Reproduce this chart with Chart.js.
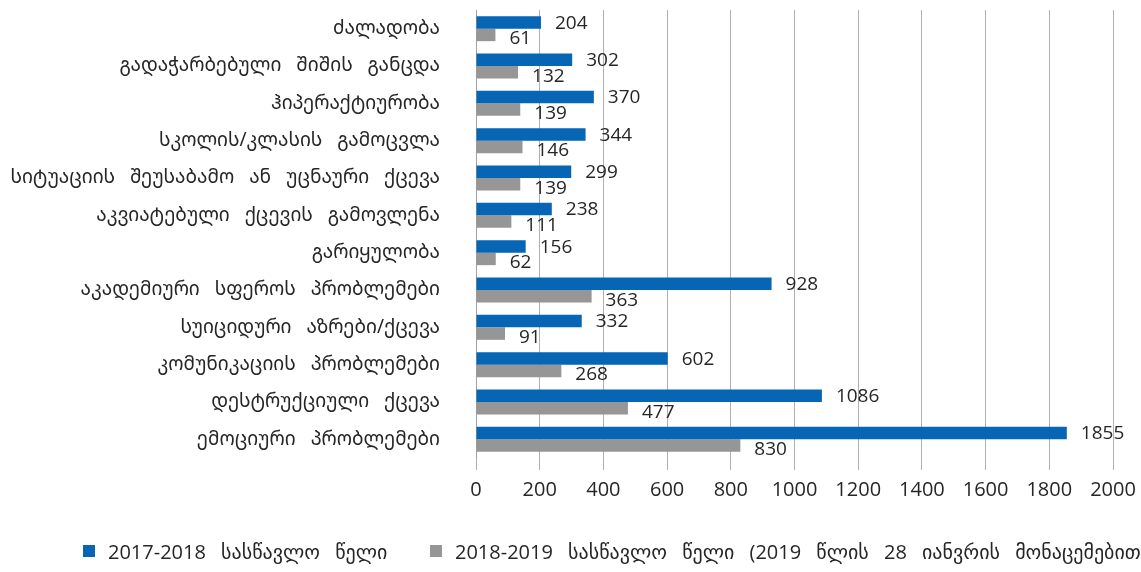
<!DOCTYPE html>
<html>
<head>
<meta charset="utf-8">
<script src="https://cdn.jsdelivr.net/npm/chart.js@4.4.1/dist/chart.umd.min.js"></script>
<style>
  html, body { margin: 0; padding: 0; background: #fff; overflow: hidden; }
  #wrap { position: relative; width: 1141px; height: 572px; }
  #legend { position: absolute; left: 0; top: 536px; width: 1141px; height: 32px; overflow: hidden; white-space: nowrap;
            font-family: "Open Sans", "DejaVu Sans", sans-serif; font-size: 20px; word-spacing: 10px; color: #262626; }
  #legend .item { position: absolute; top: 0; display: flex; align-items: center; height: 30px; }
  #legend .box { width: 12px; height: 12px; margin-right: 13px; }
</style>
</head>
<body>
<div id="wrap">
  <canvas id="bar_chart" width="1141" height="572"></canvas>
  <div id="legend"></div>
</div>
<script>
let categories = [
    'ძალადობა',
    'გადაჭარბებული შიშის განცდა',
    'ჰიპერაქტიურობა',
    'სკოლის/კლასის გამოცვლა',
    'სიტუაციის შეუსაბამო ან უცნაური ქცევა',
    'აკვიატებული ქცევის გამოვლენა',
    'გარიყულობა',
    'აკადემიური სფეროს პრობლემები',
    'სუიციდური აზრები/ქცევა',
    'კომუნიკაციის პრობლემები',
    'დესტრუქციული ქცევა',
    'ემოციური პრობლემები'
];

let series_names = [
    '2017-2018 სასწავლო წელი',
    '2018-2019 სასწავლო წელი (2019 წლის 28 იანვრის მონაცემებით)'
];

let values_2017 = [204, 302, 370, 344, 299, 238, 156, 928, 332, 602, 1086, 1855];
let values_2018 = [61, 132, 139, 146, 139, 111, 62, 363, 91, 268, 477, 830];

let x_ticks = [0, 200, 400, 600, 800, 1000, 1200, 1400, 1600, 1800, 2000];

let colors = ['#0665b4', '#969696'];

// wider gaps between words, like the original
let wideWords = {
    id: 'wideWords',
    beforeDraw(chart) {
        chart.ctx.wordSpacing = '10px';
    }
};

// value labels next to bar ends
let valueLabels = {
    id: 'valueLabels',
    afterDatasetsDraw(chart) {
        let ctx = chart.ctx;
        ctx.save();
        ctx.font = '19px "Open Sans", "DejaVu Sans", sans-serif';
        ctx.fillStyle = '#262626';
        ctx.textAlign = 'left';
        ctx.textBaseline = 'middle';
        chart.data.datasets.forEach(function(ds, i) {
            let meta = chart.getDatasetMeta(i);
            let dy = i === 0 ? 1 : 4;
            meta.data.forEach(function(bar, j) {
                ctx.fillText(String(ds.data[j]), bar.x + 14, bar.y + dy);
            });
        });
        ctx.restore();
    }
};

let chart_data = new Chart(document.getElementById('bar_chart'), {
    type: 'bar',
    data: {
        labels: categories,
        datasets: [
            {
                label: series_names[0],
                data: values_2017,
                backgroundColor: colors[0],
                categoryPercentage: 0.67,
                barPercentage: 1.0
            },
            {
                label: series_names[1],
                data: values_2018,
                backgroundColor: colors[1],
                categoryPercentage: 0.67,
                barPercentage: 1.0
            }
        ]
    },
    options: {
        indexAxis: 'y',
        responsive: false,
        animation: false,
        layout: {
            padding: { top: 10, right: 28, bottom: 62, left: 0 }
        },
        plugins: {
            legend: { display: false },
            tooltip: { enabled: false }
        },
        scales: {
            x: {
                min: 0,
                max: 2000,
                afterBuildTicks: function(scale) {
                    scale.ticks = x_ticks.map(function(v) { return { value: v }; });
                },
                afterFit: function(scale) {
                    scale.paddingRight = 0;
                    scale.paddingLeft = 0;
                },
                grid: {
                    color: '#b0b0b0',
                    lineWidth: 1,
                    tickLength: 12,
                    drawTicks: true
                },
                border: { display: false },
                ticks: {
                    color: '#262626',
                    padding: 8,
                    maxRotation: 0,
                    autoSkip: false,
                    callback: function(value) { return String(value); },
                    font: { family: '"Open Sans", sans-serif', size: 20 }
                }
            },
            y: {
                grid: { display: false },
                border: { display: true, color: '#a0a0a0', width: 1 },
                afterFit: function(scale) {
                    scale.width = 476;
                    scale.paddingTop = 0;
                    scale.paddingBottom = 0;
                },
                ticks: {
                    color: '#262626',
                    padding: 28,
                    autoSkip: false,
                    font: { family: '"Noto Sans Georgian", "DejaVu Sans", sans-serif', size: 19 }
                }
            }
        }
    },
    plugins: [wideWords, valueLabels]
});

// html legend
let legend = document.getElementById('legend');
let legend_left = [83, 430];
chart_data.data.datasets.forEach(function(ds, i) {
    let item = document.createElement('div');
    item.className = 'item';
    item.style.left = legend_left[i] + 'px';
    let box = document.createElement('span');
    box.className = 'box';
    box.style.background = ds.backgroundColor;
    let txt = document.createElement('span');
    txt.textContent = ds.label;
    item.appendChild(box);
    item.appendChild(txt);
    legend.appendChild(item);
});
</script>
</body>
</html>
